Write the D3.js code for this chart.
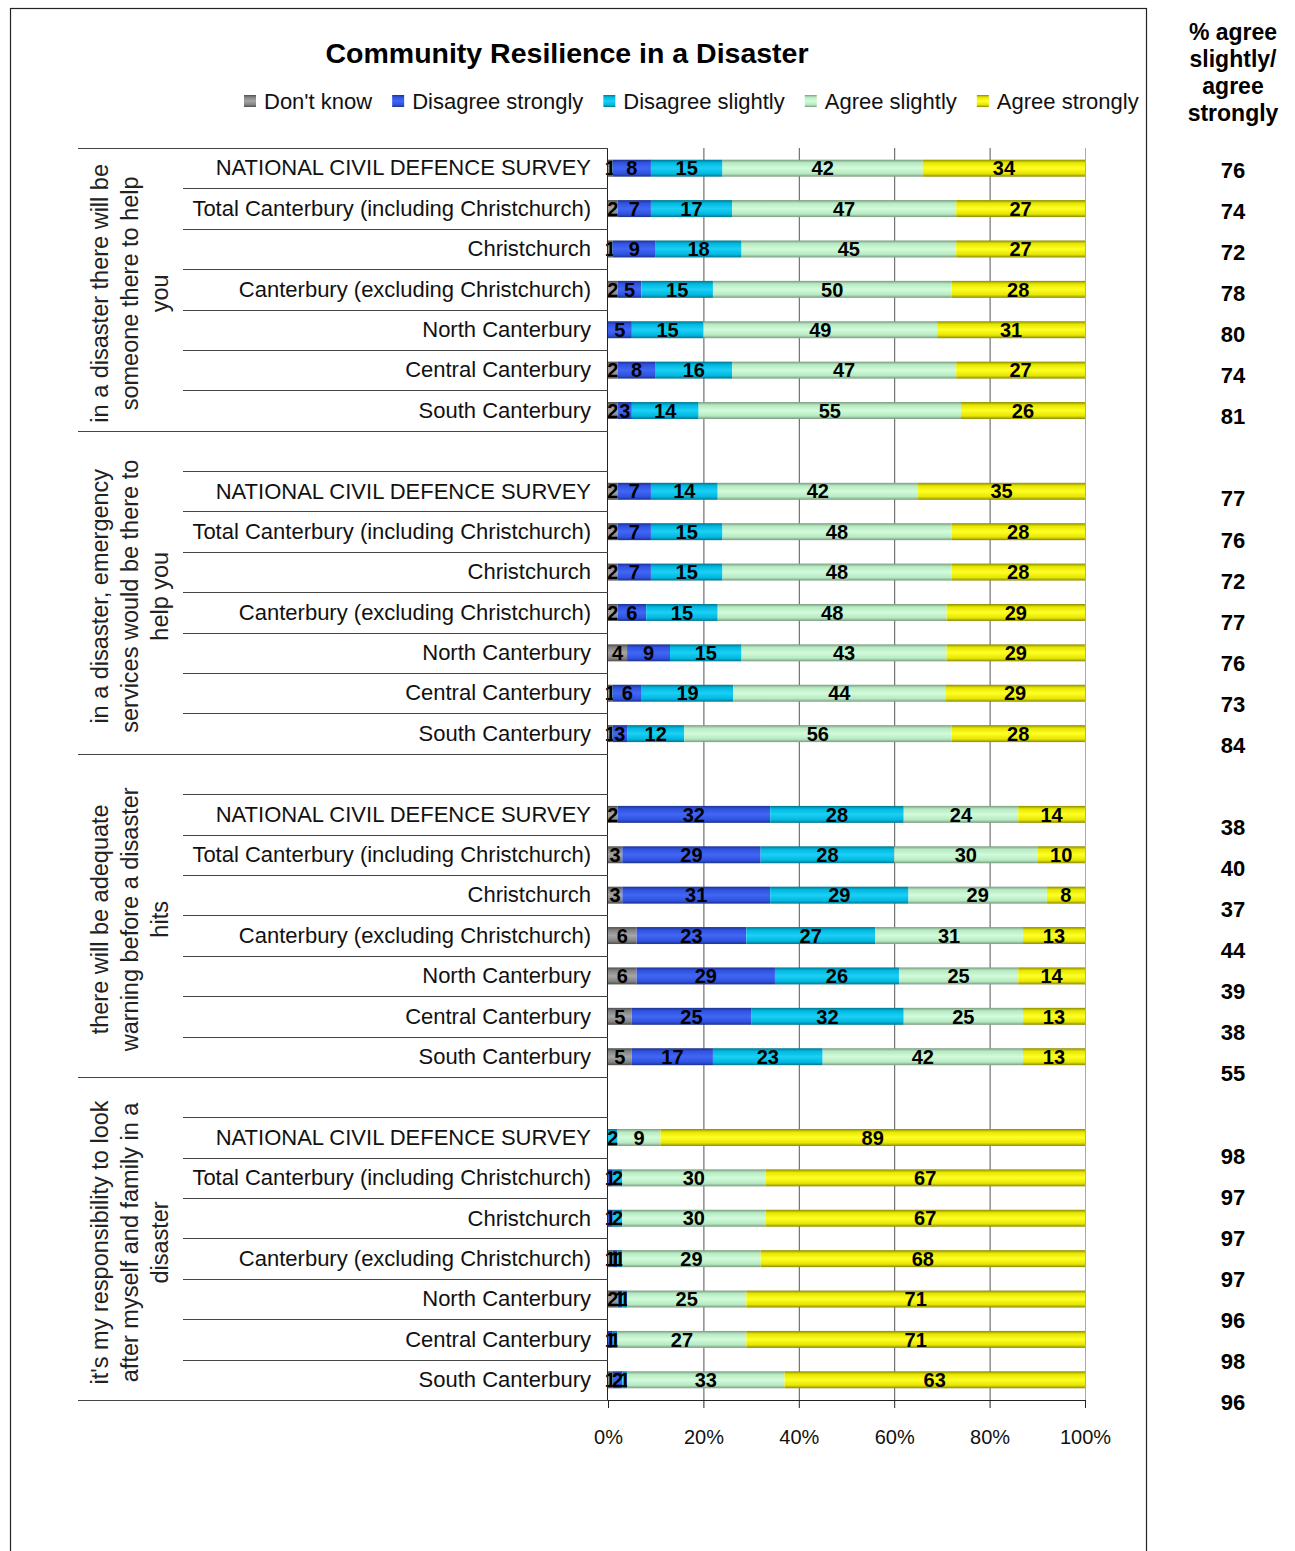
<!DOCTYPE html>
<html>
<head>
<meta charset="utf-8">
<script src="https://cdn.jsdelivr.net/npm/d3@7"></script>
<style>
  body { margin: 0; background: #fff; }
  svg text { font-family: "Liberation Sans", Arial, sans-serif; }
</style>
</head>
<body>
<div id="chart"></div>
<script>
// series names (stack order, left to right)
var series = ["Don't know", "Disagree strongly", "Disagree slightly", "Agree slightly", "Agree strongly"];

// question groups, each label split in lines like the original
var groupLines = [
  ["in a disaster there will be", "someone there to help", "you"],
  ["in a disaster, emergency", "services would be there to", "help you"],
  ["there will be adequate", "warning before a disaster", "hits"],
  ["it's my responsibility to look", "after myself and family in a", "disaster"]
];

var places = ["NATIONAL CIVIL DEFENCE SURVEY", "Total Canterbury (including Christchurch)", "Christchurch",
  "Canterbury (excluding Christchurch)", "North Canterbury", "Central Canterbury", "South Canterbury"];

// values per group (rows follow the places order)
var dontKnow = [[1, 2, 1, 2, 0, 2, 2], [2, 2, 2, 2, 4, 1, 1], [2, 3, 3, 6, 6, 5, 5], [0, 0, 0, 1, 2, 0, 1]];
var disagreeStrongly = [[8, 7, 9, 5, 5, 8, 3], [7, 7, 7, 6, 9, 6, 3], [32, 29, 31, 23, 29, 25, 17], [0, 1, 1, 1, 1, 1, 2]];
var disagreeSlightly = [[15, 17, 18, 15, 15, 16, 14], [14, 15, 15, 15, 15, 19, 12], [28, 28, 29, 27, 26, 32, 23], [2, 2, 2, 1, 1, 1, 1]];
var agreeSlightly = [[42, 47, 45, 50, 49, 47, 55], [42, 48, 48, 48, 43, 44, 56], [24, 30, 29, 31, 25, 25, 42], [9, 30, 30, 29, 25, 27, 33]];
var agreeStrongly = [[34, 27, 27, 28, 31, 27, 26], [35, 28, 28, 29, 29, 29, 28], [14, 10, 8, 13, 14, 13, 13], [89, 67, 67, 68, 71, 71, 63]];

// "% agree slightly/agree strongly" column, as printed
var agreeTotal = [[76, 74, 72, 78, 80, 74, 81], [77, 76, 72, 77, 76, 73, 84], [38, 40, 37, 44, 39, 38, 55], [98, 97, 97, 97, 96, 98, 96]];

var xTicks = [0, 0.2, 0.4, 0.6, 0.8, 1];

var width = 1295, height = 1551;
var plotLeft = 608, plotRight = 1085, plotTop = 148, plotBottom = 1400;

// colour per series: base, light centre, dark edge
var colors = {
  "Don't know": ["#828282", "#a6a6a6", "#4e4e4e"],
  "Disagree strongly": ["#2f52e0", "#4266f4", "#1c338c"],
  "Disagree slightly": ["#00b8e0", "#1ccff5", "#00768f"],
  "Agree slightly": ["#b6eac2", "#d2fbda", "#7b9a81"],
  "Agree strongly": ["#e6e600", "#ffff26", "#8a8a00"]
};

// build the rows: a blank row opens every group after the first
var rows = [];
groupLines.forEach(function (g, gi) {
  if (gi > 0) rows.push({ key: "blank" + gi, group: gi, blank: true });
  places.forEach(function (p, pi) {
    var r = { key: gi + "-" + pi, group: gi, place: p, pi: pi, blank: false, total: agreeTotal[gi][pi] };
    r[series[0]] = dontKnow[gi][pi];
    r[series[1]] = disagreeStrongly[gi][pi];
    r[series[2]] = disagreeSlightly[gi][pi];
    r[series[3]] = agreeSlightly[gi][pi];
    r[series[4]] = agreeStrongly[gi][pi];
    rows.push(r);
  });
});
var dataRows = rows.filter(function (d) { return !d.blank; });

var svg = d3.select("#chart").append("svg")
  .attr("width", width)
  .attr("height", height);

// gradients for the cylinder-like bars
var defs = svg.append("defs");
series.forEach(function (s, i) {
  var c = colors[s];
  var grad = defs.append("linearGradient")
    .attr("id", "grad" + i)
    .attr("x1", 0).attr("y1", 0).attr("x2", 0).attr("y2", 1);
  grad.append("stop").attr("offset", "0%").attr("stop-color", c[2]);
  grad.append("stop").attr("offset", "18%").attr("stop-color", c[0]);
  grad.append("stop").attr("offset", "50%").attr("stop-color", c[1]);
  grad.append("stop").attr("offset", "82%").attr("stop-color", c[0]);
  grad.append("stop").attr("offset", "100%").attr("stop-color", c[2]);
});

// outer frame
svg.append("rect")
  .attr("x", 10.5).attr("y", 8.5)
  .attr("width", 1136).attr("height", 1600)
  .attr("fill", "none")
  .attr("stroke", "#222")
  .attr("stroke-width", 1.2);

// scales
var x = d3.scaleLinear().domain([0, 1]).range([plotLeft, plotRight]);
var y = d3.scaleBand().domain(rows.map(function (d) { return d.key; })).range([plotTop, plotBottom]);
var yBar = y.copy().paddingInner(0.58).paddingOuter(0.29);
// the right-hand column was typed in separately and drifts a little
var yRight = y.copy().range([149.5, 1422.5]);

// gridlines
svg.append("g")
  .selectAll("line")
  .data(xTicks.slice(1))
  .enter().append("line")
  .attr("x1", function (d) { return x(d) + 0.5; })
  .attr("x2", function (d) { return x(d) + 0.5; })
  .attr("y1", plotTop)
  .attr("y2", plotBottom)
  .attr("stroke", function (d) { return d === 1 ? "#aaa" : "#555"; })
  .attr("stroke-width", 1);

// stacked bars
var stack = d3.stack().keys(series).offset(d3.stackOffsetExpand);
var stacked = stack(dataRows);

var layers = svg.append("g").selectAll("g")
  .data(stacked)
  .enter().append("g")
  .attr("fill", function (d, i) { return "url(#grad" + i + ")"; });

layers.selectAll("rect")
  .data(function (d) { return d; })
  .enter().append("rect")
  .attr("x", function (d) { return x(d[0]); })
  .attr("width", function (d) { return Math.max(0, x(d[1]) - x(d[0])); })
  .attr("y", function (d) { return yBar(d.data.key); })
  .attr("height", yBar.bandwidth());

// data labels
layers.each(function (layer) {
  d3.select(this).selectAll("text")
    .data(layer.filter(function (d) { return d.data[layer.key] > 0; }))
    .enter().append("text")
    .attr("x", function (d) { return (x(d[0]) + x(d[1])) / 2; })
    .attr("y", function (d) { return yBar(d.data.key) + yBar.bandwidth() / 2; })
    .attr("dy", "0.36em")
    .attr("text-anchor", "middle")
    .attr("fill", "#000")
    .style("font-size", "20px")
    .style("font-weight", "bold")
    .text(function (d) { return d.data[layer.key]; });
});

// category axis line
svg.append("line")
  .attr("x1", plotLeft - 0.5).attr("x2", plotLeft - 0.5)
  .attr("y1", plotTop).attr("y2", plotBottom)
  .attr("stroke", "#222");

// row separators (short) and group separators (long)
var boundaries = rows.map(function (d, i) {
  var isGroupStart = i === 0 || rows[i - 1].group !== d.group;
  return { y: y(d.key), long: isGroupStart };
});
boundaries.push({ y: plotBottom, long: true });

svg.append("g")
  .selectAll("line")
  .data(boundaries)
  .enter().append("line")
  .attr("x1", function (d) { return d.long ? 78 : 183; })
  .attr("x2", plotLeft)
  .attr("y1", function (d) { return Math.round(d.y) + 0.5; })
  .attr("y2", function (d) { return Math.round(d.y) + 0.5; })
  .attr("stroke", "#444")
  .attr("stroke-width", 1);

// row labels
svg.append("g")
  .selectAll("text")
  .data(dataRows)
  .enter().append("text")
  .attr("x", 591)
  .attr("y", function (d) { return y(d.key) + y.bandwidth() / 2; })
  .attr("dy", "0.33em")
  .attr("text-anchor", "end")
  .attr("fill", "#111")
  .style("font-size", "22px")
  .text(function (d) { return d.place; });

// group labels, rotated
groupLines.forEach(function (lines, gi) {
  var keys = rows.filter(function (d) { return d.group === gi; }).map(function (d) { return d.key; });
  var top = y(keys[0]);
  var bottom = y(keys[keys.length - 1]) + y.bandwidth();
  var cy = (top + bottom) / 2 + 4;
  var t = svg.append("text")
    .attr("transform", "translate(" + 130 + "," + cy + ") rotate(-90)")
    .attr("text-anchor", "middle")
    .attr("fill", "#222")
    .style("font-size", "23.5px");
  lines.forEach(function (line, li) {
    t.append("tspan")
      .attr("x", 0)
      .attr("y", (li - (lines.length - 1) / 2) * 30)
      .attr("dy", "0.35em")
      .text(line);
  });
});

// x axis
var xAxis = svg.append("g")
  .attr("transform", "translate(0," + plotBottom + ")")
  .call(d3.axisBottom(x).tickValues(xTicks).tickFormat(d3.format(".0%")).tickSize(8).tickPadding(22));
xAxis.select(".domain").attr("stroke", "#222");
xAxis.selectAll(".tick line").attr("stroke", "#222");
xAxis.selectAll(".tick text")
  .attr("fill", "#111")
  .style("font-size", "20px")
  .style("font-family", "Liberation Sans, Arial, sans-serif");

// title
svg.append("text")
  .attr("x", 567)
  .attr("y", 63)
  .attr("text-anchor", "middle")
  .attr("fill", "#000")
  .style("font-size", "28.5px")
  .style("font-weight", "bold")
  .text("Community Resilience in a Disaster");

// legend
var legendX = 244;
series.forEach(function (s, i) {
  svg.append("rect")
    .attr("x", legendX).attr("y", 95)
    .attr("width", 12).attr("height", 12)
    .attr("fill", "url(#grad" + i + ")");
  var txt = svg.append("text")
    .attr("x", legendX + 20)
    .attr("y", 109)
    .attr("fill", "#111")
    .style("font-size", "22px")
    .text(s);
  legendX += 20 + txt.node().getComputedTextLength() + 20;
});

// right-hand column heading
var head = svg.append("text")
  .attr("text-anchor", "middle")
  .attr("fill", "#000")
  .style("font-size", "23px")
  .style("font-weight", "bold");
["% agree", "slightly/", "agree", "strongly"].forEach(function (line, i) {
  head.append("tspan").attr("x", 1233).attr("y", 40 + i * 27).text(line);
});

// right-hand column values
svg.append("g")
  .selectAll("text")
  .data(dataRows)
  .enter().append("text")
  .attr("x", 1233)
  .attr("y", function (d) { return yRight(d.key) + yRight.bandwidth() / 2; })
  .attr("dy", "0.36em")
  .attr("text-anchor", "middle")
  .attr("fill", "#000")
  .style("font-size", "22px")
  .style("font-weight", "bold")
  .text(function (d) { return d.total; });
</script>
</body>
</html>
